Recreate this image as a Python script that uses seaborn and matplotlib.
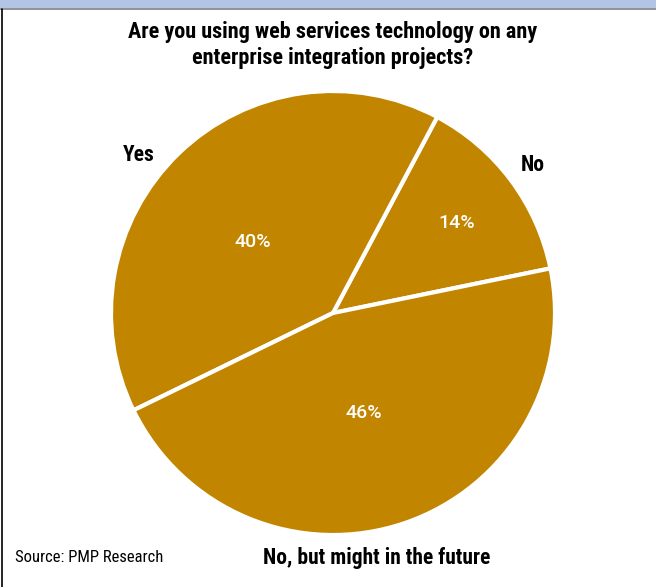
import matplotlib
matplotlib.use("Agg")
import matplotlib.pyplot as plt
import seaborn as sns
from matplotlib.patches import Rectangle
from matplotlib.lines import Line2D
from matplotlib import font_manager

categories = ["No", "Yes", "No, but might in the future"]
values = [14, 40, 46]
pct_labels = ["14%", "40%", "46%"]
title = "Are you using web services technology on any\nenterprise integration projects?"
source = "Source: PMP Research"

sns.set_theme(style="white")
names = sorted({f.name for f in font_manager.fontManager.ttflist})
fam = [n for n in ['Roboto Condensed', 'Liberation Sans Narrow', 'Liberation Sans'] if n in names]
plt.rcParams['font.family'] = fam + ['DejaVu Sans']

W, H = 656, 587
fig = plt.figure(figsize=(W / 100, H / 100), dpi=100)
ax = fig.add_axes([0, 0, 1, 1])

color = "#c18500"
cx, cy, r = 333, H - 313, 222
wedges, _ = ax.pie(values, colors=[color] * 3, startangle=11.6, counterclock=True,
                   center=(cx, cy), radius=r, frame=True,
                   wedgeprops=dict(edgecolor="white", linewidth=3))
ax.set_xlim(0, W)
ax.set_ylim(0, H)
ax.set_aspect('equal')
ax.axis('off')

pct_pos = [(457, 223), (253, 242), (364, 413)]
for (x, y), t in zip(pct_pos, pct_labels):
    ax.text(x, H - y, t, color="white", fontsize=14, fontweight="medium",
            family=['Roboto', 'DejaVu Sans'], ha="center", va="center")

cat_pos = [(533, 165), (139, 155), (377, 558)]
for (x, y), t in zip(cat_pos, categories):
    ax.text(x, H - y, t, color="black", fontsize=15.5, fontweight="bold",
            ha="center", va="center")

ax.text(333, H - 45, title, color="black", fontsize=16, fontweight="bold",
        ha="center", va="center", linespacing=1.2)
ax.text(15, H - 557, source, color="black", fontsize=12, ha="left", va="center")

ax.add_patch(Rectangle((0, H - 8), W, 8, facecolor="#b3c5e5", edgecolor="none", clip_on=False))
ax.add_line(Line2D([0, W], [H - 8.5, H - 8.5], color="#7f7f7f", linewidth=1.2))
ax.add_line(Line2D([2, 2], [0, H - 9], color="black", linewidth=1.2))

fig.savefig("out.png", dpi=100)
